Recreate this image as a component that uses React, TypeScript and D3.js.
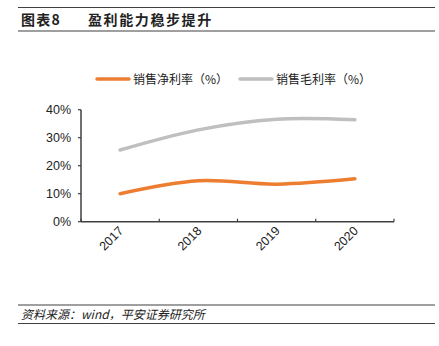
import React from "react";
import * as d3 from "d3";

const years = ["2017", "2018", "2019", "2020"];
const netMargin = [10.0, 14.6, 13.4, 15.3];
const grossMargin = [25.6, 32.8, 36.6, 36.4];
const yTicks = [0, 10, 20, 30, 40];
const seriesNames = ["销售净利率（%）", "销售毛利率（%）"];
const seriesColors = ["#ED7D31", "#BFBFBF"];

const W = 439;
const H = 346;
const FONT = "'Liberation Sans', Arial, 'Noto Sans CJK SC', sans-serif";
const CJK = "'Noto Sans CJK SC', 'Liberation Sans', sans-serif";

export default function App() {
  const x0 = 81, x1 = 394, yTop = 109.7, yBot = 221.7;
  const x = d3.scaleBand<string>().domain(years).range([x0, x1]);
  const y = d3.scaleLinear().domain([0, 40]).range([yBot, yTop]);
  const line = d3
    .line<number>()
    .x((_, i) => (x(years[i]) as number) + x.bandwidth() / 2)
    .y((d) => y(d))
    .curve(d3.curveCatmullRom.alpha(0));
  const series = [netMargin, grossMargin];
  const axisColor = "#404040";
  const tickXs = years.map((yr) => x(yr) as number).concat([x1]);
  const legendX = [97, 240];

  return (
    <svg
      width={W}
      height={H}
      style={{ position: "absolute", left: 0, top: 0, background: "#fff" }}
      fontFamily={FONT}
    >
      {/* title */}
      <line x1={18} x2={435} y1={7.5} y2={7.5} stroke="#404040" strokeWidth={1.2} />
      <line x1={18} x2={435} y1={31} y2={31} stroke="#404040" strokeWidth={1.2} />
      <text x={21} y={24.5} fontSize={14} fontWeight="bold" letterSpacing={1.3} fontFamily={CJK} fill="#222">
        图表8
      </text>
      <text x={88} y={24.5} fontSize={14} fontWeight="bold" letterSpacing={1.6} fontFamily={CJK} fill="#222">
        盈利能力稳步提升
      </text>

      {/* legend */}
      {seriesNames.map((n, i) => (
        <g key={n}>
          <line
            x1={legendX[i]}
            x2={legendX[i] + 32}
            y1={79}
            y2={79}
            stroke={seriesColors[i]}
            strokeWidth={3.5}
            strokeLinecap="round"
          />
          <text x={legendX[i] + 36} y={83.5} fontSize={12} fontFamily={CJK} fill="#222">
            {n}
          </text>
        </g>
      ))}

      {/* y axis */}
      <line x1={x0} x2={x0} y1={yTop} y2={yBot} stroke={axisColor} strokeWidth={1.5} />
      {yTicks.map((t) => (
        <g key={t}>
          <line x1={x0 - 3} x2={x0} y1={y(t)} y2={y(t)} stroke={axisColor} strokeWidth={1.2} />
          <text x={71} y={y(t) + 4.5} fontSize={12.5} textAnchor="end" fill="#222">
            {t}%
          </text>
        </g>
      ))}

      {/* x axis */}
      <line x1={x0} x2={x1} y1={yBot} y2={yBot} stroke={axisColor} strokeWidth={1.5} />
      {tickXs.map((tx, i) => (
        <line key={i} x1={tx} x2={tx} y1={yBot} y2={yBot - 3} stroke={axisColor} strokeWidth={1.2} />
      ))}
      {years.map((yr) => {
        const cx = (x(yr) as number) + x.bandwidth() / 2;
        return (
          <text
            key={yr}
            transform={`translate(${cx + 4},${yBot + 10}) rotate(-45)`}
            fontSize={12.5}
            textAnchor="end"
            fill="#222"
          >
            {yr}
          </text>
        );
      })}

      {/* lines */}
      {series.map((s, i) => (
        <path
          key={i}
          d={line(s) || ""}
          fill="none"
          stroke={seriesColors[i]}
          strokeWidth={3.5}
          strokeLinecap="round"
        />
      ))}

      {/* footer */}
      <line x1={18} x2={435} y1={305} y2={305} stroke="#404040" strokeWidth={1.2} />
      <line x1={18} x2={435} y1={323.5} y2={323.5} stroke="#404040" strokeWidth={1.2} />
      <text x={21} y={318.5} fontSize={12} fontStyle="italic" fontFamily={CJK} fill="#222">
        资料来源：wind，平安证券研究所
      </text>
    </svg>
  );
}
